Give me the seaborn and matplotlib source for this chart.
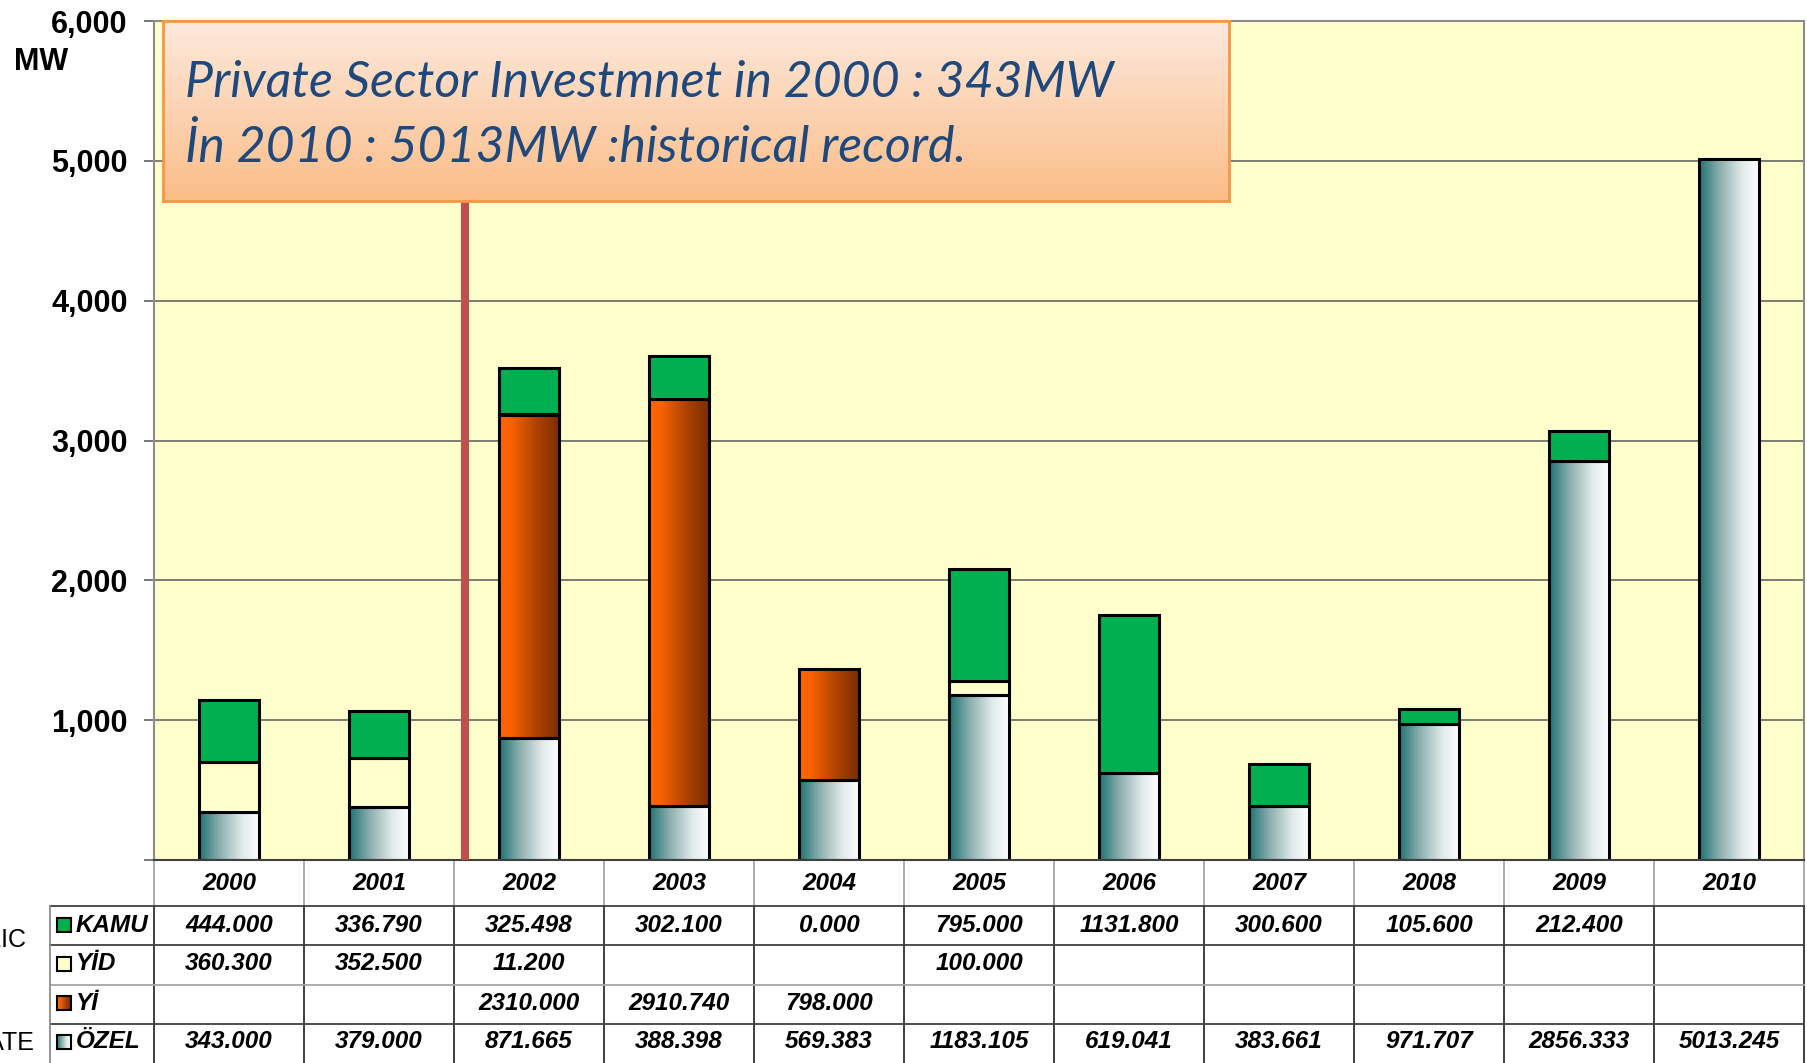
import numpy as np
import matplotlib
matplotlib.use("Agg")
import matplotlib.pyplot as plt
import matplotlib.transforms as mtransforms
from matplotlib.colors import LinearSegmentedColormap
import seaborn as sns

# data (MW)
years = ["2000", "2001", "2002", "2003", "2004", "2005", "2006", "2007", "2008", "2009", "2010"]
kamu = [444.000, 336.790, 325.498, 302.100, 0.000, 795.000, 1131.800, 300.600, 105.600, 212.400, None]
yid = [360.300, 352.500, 11.200, None, None, 100.000, None, None, None, None, None]
yi = [None, None, 2310.000, 2910.740, 798.000, None, None, None, None, None, None]
ozel = [343.000, 379.000, 871.665, 388.398, 569.383, 1183.105, 619.041, 383.661, 971.707, 2856.333, 5013.245]
series_names = ["KAMU", "YİD", "Yİ", "ÖZEL"]
yticks = [0, 1000, 2000, 3000, 4000, 5000, 6000]
note_lines = ["Private Sector Investmnet in 2000 : 343MW", "İn 2010 : 5013MW :historical record."]

W, H = 1807, 1063
fig = plt.figure(figsize=(W / 100, H / 100), dpi=100)
plt.rcParams['font.family'] = ['Liberation Sans', 'DejaVu Sans']

ax = fig.add_axes([154 / W, 1 - 860 / H, 1650 / W, 839 / H])
ax.set_facecolor('#ffffcc')

ozel_cmap = LinearSegmentedColormap.from_list('ozel', [(0, '#1d7372'), (0.35, '#8fb0b0'), (0.7, '#e0e9e9'), (1, '#ffffff')])
yi_cmap = LinearSegmentedColormap.from_list('yi', [(0, '#ff6600'), (0.2, '#f86300'), (0.6, '#b04300'), (1, '#772e00')])
grad = np.linspace(0, 1, 256).reshape(1, -1)

# stacked bars, bottom to top
layers = [(ozel, '#ffffff', ozel_cmap), (yi, '#ff6600', yi_cmap), (yid, '#ffffcc', None), (kamu, '#00b050', None)]
bottom = np.zeros(len(years))
for vals, col, cmap in layers:
    v = np.array([0 if x is None else x for x in vals], dtype=float)
    sns.barplot(x=years, y=v, bottom=bottom, color=col, saturation=1, width=0.405,
                edgecolor='black', linewidth=2.2, errorbar=None, ax=ax, zorder=2)
    cont = ax.containers[-1]
    for bar in cont:
        if bar.get_height() <= 0:
            bar.remove()
            continue
        if cmap is not None:
            x0, y0 = bar.get_x(), bar.get_y()
            bar.set_facecolor('none')
            im = ax.imshow(grad, cmap=cmap, aspect='auto', interpolation='bicubic',
                           extent=[x0, x0 + bar.get_width(), y0, y0 + bar.get_height()], zorder=1.9)
            im.set_clip_path(bar)
    bottom = bottom + v

ax.set_xlim(-0.5, 10.5)
ax.set_ylim(0, 6000)
ax.set_xlabel('')
ax.set_ylabel('')
ax.set_xticks([])
ax.set_yticks(yticks)
ax.set_yticklabels([''] + [f'{t:,}' for t in yticks[1:]], fontsize=22, fontweight='bold')
ax.tick_params(axis='y', length=7, width=1.2, color='#606060', pad=12)
ax.yaxis.grid(True, color='#666660', linewidth=1.2)
ax.set_axisbelow(True)
for s in ['left', 'top', 'right']:
    ax.spines[s].set_color('#8c8c8c')
    ax.spines[s].set_linewidth(1.5)
ax.spines['bottom'].set_color('#404040')
ax.spines['bottom'].set_linewidth(1.5)

# red divider
ax.axvline(1.57, color='#c0504d', linewidth=5.8, zorder=3)

fig.text(14 / W, 1 - 62 / H, 'MW', fontsize=22, fontweight='bold', va='center', ha='left')

# data table
tr = mtransforms.blended_transform_factory(ax.transData, fig.transFigure)
Y = lambda p: 1 - p / H
row_lines = [906, 945, 985, 1024]
row_centers = [925, 964, 1003, 1042]
tfont = dict(fontsize=17.5, fontweight='bold', fontstyle='italic')

for i, yr in enumerate(years):
    ax.text(i, Y(884), yr, transform=tr, ha='center', va='center', clip_on=False, **tfont)
for j, vals in enumerate([kamu, yid, yi, ozel]):
    for i, v in enumerate(vals):
        if v is not None:
            ax.text(i, Y(row_centers[j]), f'{v:.3f}', transform=tr, ha='center', va='center',
                    clip_on=False, **tfont)

for i in range(len(years) + 1):
    ax.plot([i - 0.5, i - 0.5], [Y(860), Y(906)], transform=tr, color='#a6a6a6', lw=1.3, clip_on=False)
    ax.plot([i - 0.5, i - 0.5], [Y(906), Y(1063)], transform=tr, color='#303030', lw=1.3, clip_on=False)
x_right = ax.get_position().x1
for k, p in enumerate(row_lines):
    c = '#a6a6a6' if k == 2 else '#404040'
    fig.add_artist(plt.Line2D([50 / W, x_right], [Y(p), Y(p)], color=c, lw=1.3))
fig.add_artist(plt.Line2D([50 / W, 50 / W], [Y(906), Y(1063)], color='#8c8c8c', lw=1.3))

# legend keys
key_colors = ['#00b050', '#ffffcc', None, None]
key_cmaps = [None, None, yi_cmap, ozel_cmap]
for j, name in enumerate(series_names):
    yc = row_centers[j]
    kax = fig.add_axes([57 / W, 1 - (yc + 7) / H, 14 / W, 14 / H])
    if key_cmaps[j] is not None:
        kax.imshow(grad, cmap=key_cmaps[j], aspect='auto')
    else:
        kax.set_facecolor(key_colors[j])
    kax.set_xticks([])
    kax.set_yticks([])
    for s in kax.spines.values():
        s.set_linewidth(1.5)
        s.set_color('black')
    fig.text(76 / W, Y(yc), name, ha='left', va='center', **tfont)

fig.text(26 / W, Y(940), 'PUBLIC', ha='right', va='center', fontsize=18)
fig.text(34 / W, Y(1043), 'PRIVATE', ha='right', va='center', fontsize=18)

# note box
bx = fig.add_axes([163 / W, 1 - 201 / H, 1066 / W, 180 / H], zorder=5)
vgrad = np.linspace(0, 1, 256).reshape(-1, 1)
box_cmap = LinearSegmentedColormap.from_list('box', ['#fde9dc', '#fbbd88'])
bx.imshow(vgrad, cmap=box_cmap, aspect='auto', extent=[0, 1, 0, 1])
bx.set_xlim(0, 1)
bx.set_ylim(0, 1)
bx.set_xticks([])
bx.set_yticks([])
for s in bx.spines.values():
    s.set_color('#f79646')
    s.set_linewidth(2)
bx.text(0.0206, 0.578, note_lines[0], transform=bx.transAxes, va='baseline', ha='left',
        fontsize=36, fontstyle='italic', color='#1f497d', family=['Lato', 'DejaVu Sans'])
bx.text(0.0206, 0.217, note_lines[1], transform=bx.transAxes, va='baseline', ha='left',
        fontsize=36, fontstyle='italic', color='#1f497d', family=['Lato', 'DejaVu Sans'])

fig.savefig('out.png', dpi=100)
